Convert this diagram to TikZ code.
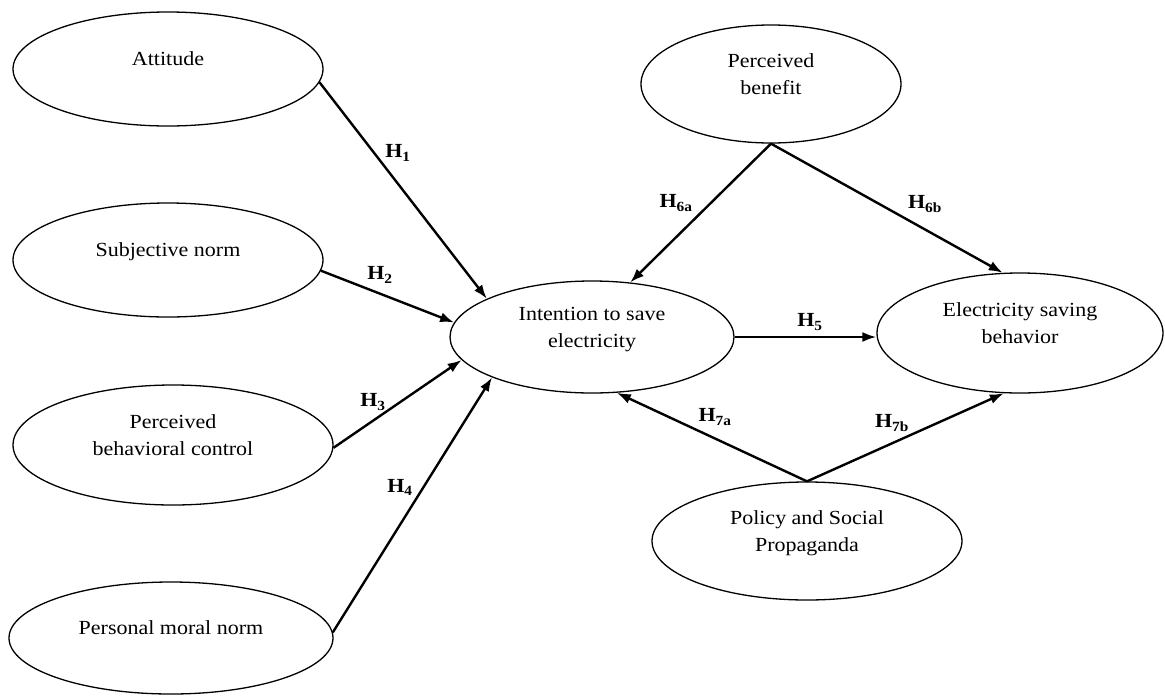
\documentclass[tikz,border=0pt]{standalone}
\usepackage{fontspec}
\setmainfont{Liberation Serif}[FakeStretch=1.1]
\usetikzlibrary{shapes.geometric,arrows.meta}
\tikzset{
  construct/.style={draw, ellipse, line width=1.3pt, inner sep=0pt, align=center,
    text depth=20pt, font=\fontsize{20}{27}\selectfont},
  link/.style={-{Latex[length=14pt,width=10pt]}, line width=2.4pt},
  hyp/.style={inner sep=0pt, font=\fontsize{20}{24}\selectfont\bfseries}
}
\newcommand{\hyptext}[1]{H\textsubscript{#1}}
\begin{document}
\begin{tikzpicture}[x=1pt,y=-1pt]
  \useasboundingbox (0,0) rectangle (1165,697);
  % constructs
  \node[construct, minimum width=310pt, minimum height=114pt] (att) at (168,69) {Attitude};
  \node[construct, minimum width=310pt, minimum height=114pt] (sub) at (168,260) {Subjective norm};
  \node[construct, minimum width=320pt, minimum height=120pt] (pbc) at (173,445) {Perceived\\behavioral control};
  \node[construct, minimum width=324pt, minimum height=112pt] (pmn) at (171,638) {Personal moral norm};
  \node[construct, minimum width=284pt, minimum height=112pt] (int) at (592,337) {Intention to save\\electricity};
  \node[construct, minimum width=260pt, minimum height=118pt] (ben) at (771,84) {Perceived\\benefit};
  \node[construct, minimum width=286pt, minimum height=120pt] (esb) at (1020,333) {Electricity saving\\behavior};
  \node[construct, minimum width=310pt, minimum height=118pt] (pol) at (807,541) {Policy and Social\\Propaganda};
  % paths
  \draw[link] (att.-5) -- (int.160);
  \draw[link] (sub.-4) -- (int.174);
  \draw[link] (pbc.-1) -- (int.-170);
  \draw[link] (pmn.2) -- (int.-158);
  \draw[link] (int.east) -- (int.east -| esb.west);
  \draw[link] (ben.south) -- (int.55);
  \draw[link] (ben.south) -- (esb.106);
  \draw[link] (pol.north) -- (int.-66);
  \draw[link] (pol.north) -- (esb.-105);
  % hypotheses
  \node[hyp] (h1) at (398,153) {\hyptext{1}};
  \node[hyp] (h2) at (380,275) {\hyptext{2}};
  \node[hyp] (h3) at (373,402) {\hyptext{3}};
  \node[hyp] (h4) at (400,487) {\hyptext{4}};
  \node[hyp] (h5) at (810,322) {\hyptext{5}};
  \node[hyp] (h6a) at (676,203) {\hyptext{6a}};
  \node[hyp] (h6b) at (925,204) {\hyptext{6b}};
  \node[hyp] (h7a) at (715,417) {\hyptext{7a}};
  \node[hyp] (h7b) at (892,423) {\hyptext{7b}};
\end{tikzpicture}
\end{document}
